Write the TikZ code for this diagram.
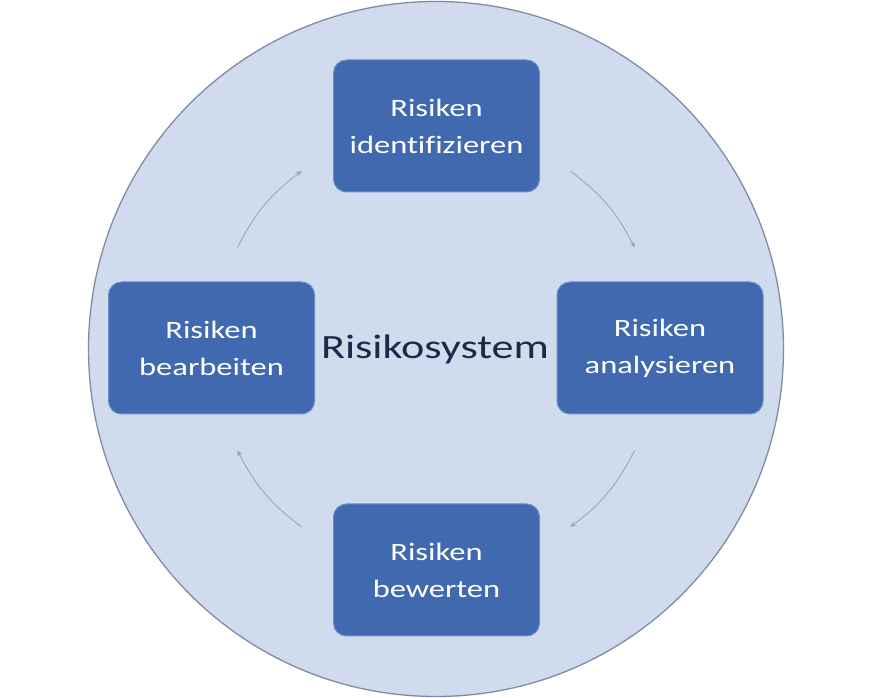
\documentclass[tikz,border=0pt]{standalone}
\usepackage{fontspec}
\setmainfont{Carlito}
\newfontfamily\widefont[FakeStretch=1.3,Ligatures=NoCommon]{Carlito}
\usetikzlibrary{arrows.meta,calc}
\definecolor{ringfill}{HTML}{D0DCEE}
\definecolor{ringdraw}{HTML}{7F8CA6}
\definecolor{boxfill}{HTML}{4169B0}
\definecolor{boxdraw}{HTML}{6A8CC8}
\definecolor{arrowcol}{HTML}{98A6BC}
\definecolor{titlecol}{HTML}{1C2A4A}
\tikzset{
  stepbox/.style={rectangle, rounded corners=13pt, fill=boxfill, draw=boxdraw, line width=1pt,
    minimum width=206pt, minimum height=132pt, text=white, align=center,
    font=\widefont\fontsize{25}{37}\selectfont},
  cyclearrow/.style={draw=arrowcol, line width=0.9pt, -{Stealth[length=6pt,width=5pt]}},
}
\begin{document}
\begin{tikzpicture}[x=1pt,y=1pt]
\useasboundingbox (0,0) rectangle (872,698);
\fill[white] (0,0) rectangle (872,698);
\node[circle, fill=ringfill, draw=ringdraw, line width=1.3pt, minimum size=695pt, inner sep=0pt] (ring) at (436,349) {};
\node[stepbox] (ident) at (436.5,572) {Risiken\\identifizieren};
\node[stepbox] (analy) at (660,350) {Risiken\\analysieren};
\node[stepbox] (bewert) at (436.5,128) {Risiken\\bewerten};
\node[stepbox] (bearb) at (211.5,350) {Risiken\\bearbeiten};
\node[text=titlecol, font=\widefont\fontsize{34}{40}\selectfont] (title) at (435,349) {Risikosystem};
\coordinate (a1s) at ($(ring.center)+(153:223)$);
\coordinate (a1e) at ($(ring.center)+(127:223)$);
\coordinate (a2s) at ($(ring.center)+(53:223)$);
\coordinate (a2e) at ($(ring.center)+(27:223)$);
\coordinate (a3s) at ($(ring.center)+(-27:223)$);
\coordinate (a3e) at ($(ring.center)+(-53:223)$);
\coordinate (a4s) at ($(ring.center)+(-127:223)$);
\coordinate (a4e) at ($(ring.center)+(-153:223)$);
\draw[cyclearrow] (a1s) to[bend left=13] (a1e);
\draw[cyclearrow] (a2s) to[bend left=13] (a2e);
\draw[cyclearrow] (a3s) to[bend left=13] (a3e);
\draw[cyclearrow] (a4s) to[bend left=13] (a4e);
\end{tikzpicture}
\end{document}
